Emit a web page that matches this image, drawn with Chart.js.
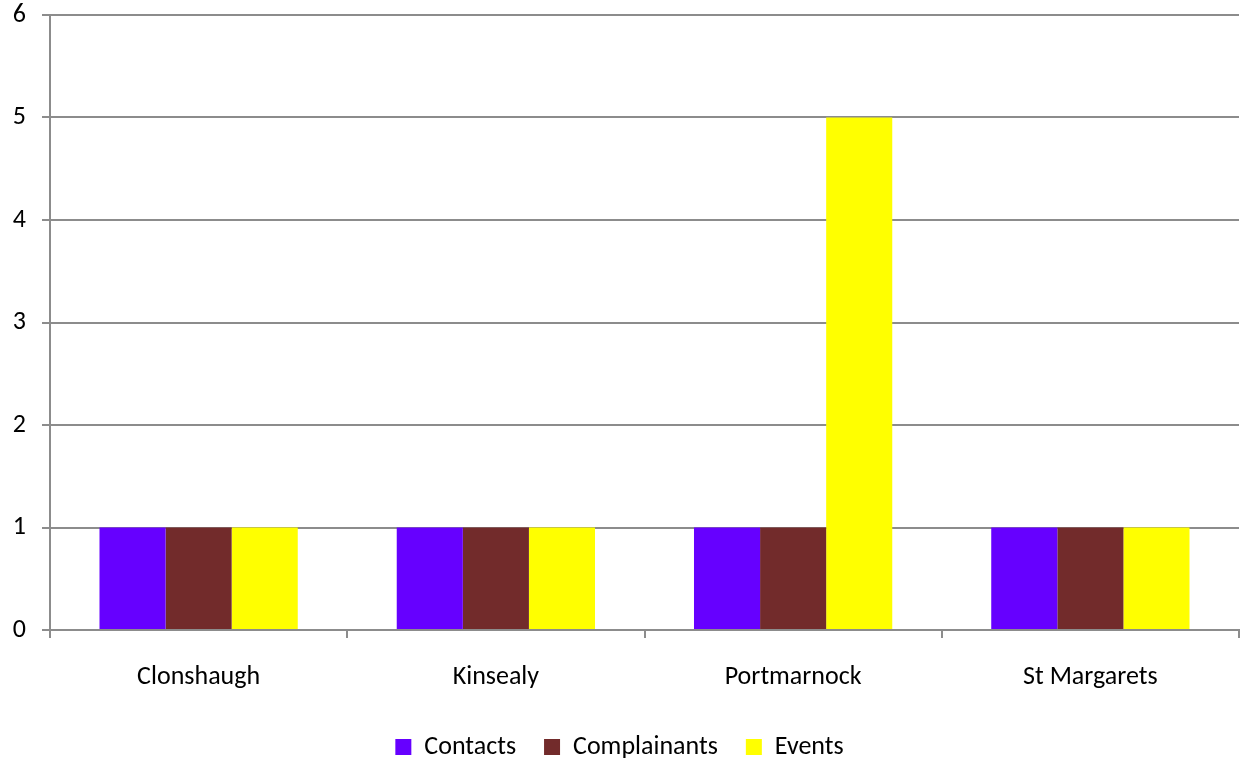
<!DOCTYPE html>
<html>
<head>
<meta charset="utf-8">
<script src="https://cdn.jsdelivr.net/npm/chart.js@4"></script>
<style>
  html, body { margin: 0; padding: 0; background: #fff; }
  #wrap { width: 1243px; height: 760px; }
</style>
</head>
<body>
<div id="wrap"><canvas id="chart" width="1243" height="760"></canvas></div>
<script>
const categories = ["Clonshaugh", "Kinsealy", "Portmarnock", "St Margarets"];
const contacts = [1, 1, 1, 1];
const complainants = [1, 1, 1, 1];
const events = [1, 1, 5, 1];
const yTicks = [0, 1, 2, 3, 4, 5, 6];

Chart.defaults.font.family = "Carlito, 'Noto Sans', 'Open Sans', sans-serif";
Chart.defaults.color = "#000";

var ctx = document.getElementById("chart").getContext("2d");
var myChart = new Chart(ctx, {
  type: "bar",
  data: {
    labels: categories,
    datasets: [
      { label: "Contacts", data: contacts, backgroundColor: "#6600FF" },
      { label: "Complainants", data: complainants, backgroundColor: "#722B2B" },
      { label: "Events", data: events, backgroundColor: "#FFFF00" },
    ],
  },
  options: {
    responsive: false,
    animation: false,
    datasets: {
      bar: { categoryPercentage: 0.667, barPercentage: 1.0 },
    },
    layout: { padding: { top: 15, right: 4, left: 0, bottom: -10 } },
    plugins: {
      legend: {
        position: "bottom",
        labels: {
          boxWidth: 16,
          boxHeight: 16,
          padding: 28,
          font: { size: 26 },
        },
      },
      tooltip: { enabled: false },
    },
    scales: {
      y: {
        min: 0,
        max: 6,
        afterBuildTicks: function (scale) {
          scale.ticks = yTicks.map(function (v) { return { value: v }; });
        },
        afterFit: function (scale) {
          scale.width = 50;
          scale.paddingTop = 0;
          scale.paddingBottom = 0;
        },
        ticks: { font: { size: 26 }, padding: 16 },
        grid: { color: "#8c8c8c", lineWidth: 2, tickLength: 8 },
        border: { color: "#8c8c8c", width: 2 },
      },
      x: {
        afterFit: function (scale) { scale.height = 76; },
        ticks: { font: { size: 26 }, padding: 24 },
        grid: {
          offset: true,
          drawOnChartArea: false,
          color: "#8c8c8c",
          lineWidth: 2,
          tickLength: 8,
        },
        border: { color: "#8c8c8c", width: 2 },
      },
    },
  },
});
</script>
</body>
</html>
